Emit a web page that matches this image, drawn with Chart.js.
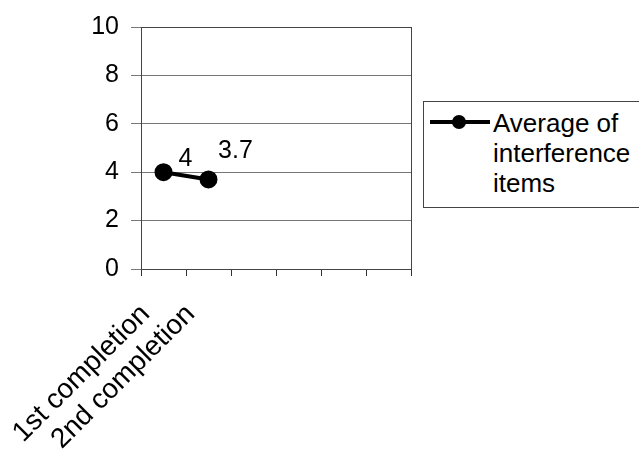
<!DOCTYPE html>
<html>
<head>
<meta charset="utf-8">
<script src="https://cdn.jsdelivr.net/npm/chart.js@4"></script>
<style>
  body { margin: 0; background: #fff; }
  #wrap { position: relative; width: 639px; height: 456px; overflow: hidden; }
  #legend {
    position: absolute; left: 423px; top: 101px; width: 230px; height: 107px;
    border: 1px solid #444; background: #fff; box-sizing: border-box;
    font-family: "Liberation Sans", Arial, sans-serif; font-size: 26px; color: #000;
  }
  #legend .mark { position: absolute; left: 6px; top: 18px; width: 60px; height: 4px; background: #000; }
  #legend .dot { position: absolute; left: 22px; top: -5px; width: 14px; height: 14px; border-radius: 50%; background: #000; }
  #legend .txt { position: absolute; left: 69px; top: 6px; line-height: 30px; }
</style>
</head>
<body>
<div id="wrap">
  <canvas id="chart" width="639" height="456"></canvas>
  <div id="legend"><div class="mark"><div class="dot"></div></div><div class="txt">Average of<br>interference<br>items</div></div>
</div>
<script>
const categories = ["1st completion", "2nd completion", "", "", "", ""];
const averageValues = [4, 3.7, null, null, null, null];
const yTicks = [0, 2, 4, 6, 8, 10];

const font = "'Liberation Sans', Arial, sans-serif";

const frame = {
  id: "frame",
  afterDraw(chart) {
    const { ctx, chartArea: a } = chart;
    ctx.save();
    ctx.strokeStyle = "#444";
    ctx.lineWidth = 1;
    ctx.strokeRect(a.left + 0.5, a.top + 0.5, a.right - a.left, a.bottom - a.top);
    ctx.restore();
  }
};

// value labels sit up and to the right of each point, as in the original
const labelShift = [[22, -6], [27, -21]];
const pointLabels = {
  id: "pointLabels",
  afterDatasetsDraw(chart) {
    const { ctx } = chart;
    const meta = chart.getDatasetMeta(0);
    ctx.save();
    ctx.fillStyle = "#000";
    ctx.font = "25px " + font;
    ctx.textAlign = "center";
    ctx.textBaseline = "alphabetic";
    meta.data.forEach((pt, i) => {
      const v = averageValues[i];
      if (v == null) return;
      const [dx, dy] = labelShift[i];
      ctx.fillText(String(v), pt.x + dx, pt.y + dy);
    });
    ctx.restore();
  }
};

new Chart(document.getElementById("chart").getContext("2d"), {
  type: "line",
  data: {
    labels: categories,
    datasets: [{
      label: "Average of interference items",
      data: averageValues,
      borderColor: "#000",
      backgroundColor: "#000",
      borderWidth: 4,
      pointRadius: 7,
      pointBackgroundColor: "#000",
      spanGaps: false
    }]
  },
  options: {
    responsive: false,
    animation: false,
    layout: { padding: { top: 25, right: 228, left: 0, bottom: 0 } },
    plugins: { legend: { display: false }, tooltip: { enabled: false } },
    scales: {
      x: {
        offset: true,
        grid: { offset: true, drawOnChartArea: false, drawTicks: true, tickLength: 7, color: "#333" },
        border: { color: "#333" },
        ticks: {
          autoSkip: false, minRotation: 45, maxRotation: 45, padding: 22, labelOffset: -18,
          color: "#000", font: { family: font, size: 28 }
        },
        afterFit(s) { s.height = 456 - 269; }
      },
      y: {
        min: 0, max: 10,
        afterBuildTicks(s) { s.ticks = yTicks.map(v => ({ value: v })); },
        grid: { color: "#777", tickLength: 10 },
        border: { color: "#333" },
        ticks: {
          padding: 12, color: "#000",
          font: { family: font, size: 25 }
        },
        afterFit(s) { s.width = 141; }
      }
    }
  },
  plugins: [frame, pointLabels]
});
</script>
</body>
</html>
